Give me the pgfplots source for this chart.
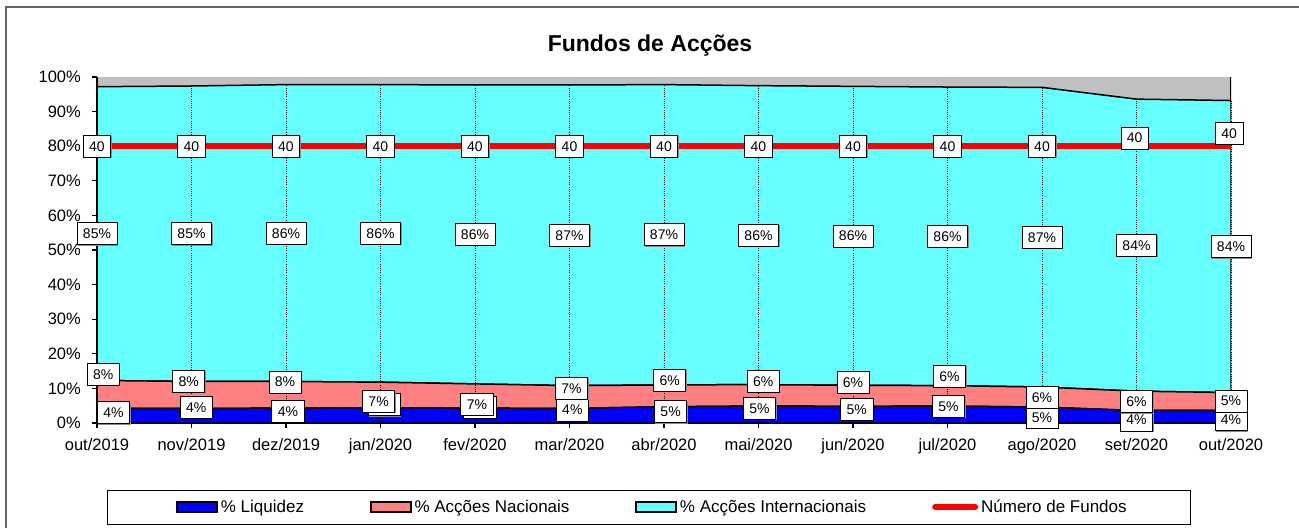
\documentclass[border=0pt]{standalone}
\usepackage{fontspec}
\setmainfont{Liberation Sans}
\usepackage{pgfplots}
\pgfplotsset{compat=1.18}
\usepackage{pgfplotstable}
\usetikzlibrary{shadows}

\definecolor{liqblue}{RGB}{0,0,255}
\definecolor{nacsalmon}{RGB}{255,128,128}
\definecolor{intcyan}{RGB}{102,255,255}
\definecolor{othgray}{RGB}{192,192,192}
\definecolor{fundred}{RGB}{255,0,0}

% x: category index; liq/nac/int: shares in %; fund: number of funds
% lqx,lqy / ncx,ncy / fx,fy: positions of the data labels
\pgfplotstableread{
x  liq nac int  lqx   lqy ncx   ncy  fx    fy   fund
0  4.2 8.1 84.9 0.175 3.0 0.065 14.1 0     40   40
1  4.2 7.8 85.4 1.05  4.5 0.97  12.0 1     40   40
2  4.3 7.7 85.8 2.02  3.4 1.99  11.9 2     40   40
3  4.4 7.4 86.0 3.04  5.3 2.98  6.3  3     40   40
4  4.3 7.0 86.4 4.05  4.5 4.02  5.4  4     40   40
5  4.2 6.6 86.9 5.03  3.8 5.02  10.0 5     40   40
6  4.7 6.3 86.8 6.07  3.3 6.06  12.3 6     40   40
7  4.9 6.2 86.4 7.01  4.2 7.05  12.0 7     40   40
8  4.8 6.1 86.4 8.04  4.0 8.0   11.8 8     40   40
9  4.9 5.9 86.3 9.01  4.8 9.02  13.5 9     40   40
10 4.6 5.8 86.6 10.0  1.7 10.0  7.4  10    40   40
11 3.6 5.6 84.4 11.0  0.9 11.0  6.2  10.98 41.2 40
12 3.7 5.1 84.4 12.0  1.0 12.0  6.4  11.98 41.9 40
}\data

\tikzset{
  lbl/.style={anchor=center, draw=black, line width=0.6pt, fill=white, text=black,
    font=\fontsize{14}{16}\selectfont, inner xsep=6pt, inner ysep=0pt,
    minimum height=22pt, text height=10pt, text depth=0pt,
    drop shadow={shadow xshift=1pt, shadow yshift=-1pt, fill=black!45, opacity=1}},
}
\pgfplotsset{
  myaxis/.style={width=1134pt, height=346pt, scale only axis,
    at={(97pt,105pt)}, anchor=south west, xmin=0, xmax=12},
  areaimg/.style={legend image code/.code={\draw[##1] (0pt,-5pt) rectangle (40pt,5pt);}},
  lineimg/.style={legend image code/.code={\draw[##1, line width=6pt, line cap=round] (3pt,0pt) -- (43pt,0pt);}},
}

\begin{document}
\begin{tikzpicture}
\useasboundingbox (0pt,0pt) rectangle (1299pt,528pt);
\fill[white] (0pt,0pt) rectangle (1299pt,528pt);
\draw[black!60, line width=1.2pt] (6pt,0pt) -- (6pt,521pt) -- (1299pt,521pt);

\node[anchor=base, font=\bfseries\fontsize{23}{27}\selectfont] at (650pt,476pt) {Fundos de Acções};

% main axis: stacked areas
\begin{axis}[myaxis, ymin=0, ymax=100, stack plots=y,
  axis background/.style={fill=othgray},
  axis x line*=bottom, axis y line*=left,
  axis line style={black, line width=1.5pt},
  xtick={0,...,12},
  xticklabels={out/2019,nov/2019,dez/2019,jan/2020,fev/2020,mar/2020,abr/2020,mai/2020,jun/2020,jul/2020,ago/2020,set/2020,out/2020},
  ytick={0,10,...,100},
  yticklabel={\pgfmathprintnumber{\tick}\%},
  /pgf/number format/assume math mode=true,
  tick align=outside, major tick length=5pt,
  tick style={black, line width=1.2pt},
  tick label style={font=\fontsize{16.5}{19}\selectfont},
  yticklabel style={anchor=east, inner sep=0pt, xshift=-11pt},
  xticklabel style={anchor=north, inner sep=0pt, yshift=-10pt},
]
\addplot[fill=liqblue, draw=black, line width=1.5pt, mark=none] table[x=x, y=liq] {\data} \closedcycle;
\addplot[fill=nacsalmon, draw=black, line width=1.5pt, mark=none] table[x=x, y=nac] {\data} \closedcycle;
\addplot[fill=intcyan, draw=black, line width=1.5pt, mark=none] table[x=x, y=int] {\data} \closedcycle;
\draw[black, line width=1.5pt] (rel axis cs:1,0) -- (rel axis cs:1,1);
\end{axis}

% overlay: drop lines and percentage labels
\begin{axis}[myaxis, ymin=0, ymax=100, hide axis, clip=false,
  /pgf/number format/assume math mode=true]
\addplot[ycomb, black, line width=0.8pt, dash pattern=on 1pt off 1.2pt, mark=none, forget plot]
  table[x=x, y expr=\thisrow{liq}+\thisrow{nac}+\thisrow{int}] {\data};
\addplot[draw=none, mark=none, forget plot, point meta=explicit,
  nodes near coords={\pgfmathprintnumber[fixed,precision=0]{\pgfplotspointmeta}\%},
  every node near coord/.append style={lbl}]
  table[x=lqx, y=lqy, meta=liq] {\data};
\addplot[draw=none, mark=none, forget plot, point meta=explicit,
  nodes near coords={\pgfmathprintnumber[fixed,precision=0]{\pgfplotspointmeta}\%},
  every node near coord/.append style={lbl}]
  table[x=ncx, y=ncy, meta=nac] {\data};
\addplot[draw=none, mark=none, forget plot, point meta=explicit,
  nodes near coords={\pgfmathprintnumber[fixed,precision=0]{\pgfplotspointmeta}\%},
  every node near coord/.append style={lbl}]
  table[x=x, y expr=\thisrow{liq}+\thisrow{nac}+\thisrow{int}/2, meta=int] {\data};
\end{axis}

% overlay: number of funds (secondary scale 0-50) and legend
\begin{axis}[myaxis, ymin=0, ymax=50, hide axis, clip=false,
  /pgf/number format/assume math mode=true,
  legend columns=4,
  legend style={at={(0.4890,-0.2428)}, anchor=center, draw=none, fill=none,
    font=\fontsize{17}{20}\selectfont, nodes={inner sep=0pt},
    /tikz/every odd column/.append style={column sep=3pt},
    /tikz/every even column/.append style={column sep=66pt}},
  legend cell align=left]
\addlegendimage{fill=liqblue, draw=black, line width=1.5pt, areaimg}
\addlegendentry{\% Liquidez}
\addlegendimage{fill=nacsalmon, draw=black, line width=1.5pt, areaimg}
\addlegendentry{\% Acções Nacionais}
\addlegendimage{fill=intcyan, draw=black, line width=1.5pt, areaimg}
\addlegendentry{\% Acções Internacionais}
\addplot[fundred, line width=6.5pt, mark=none, lineimg]
  table[x=x, y=fund] {\data};
\addlegendentry{Número de Fundos}
\addplot[draw=none, mark=none, forget plot, point meta=explicit,
  nodes near coords={\pgfmathprintnumber{\pgfplotspointmeta}},
  every node near coord/.append style={lbl}]
  table[x=fx, y=fy, meta=fund] {\data};
\end{axis}

\draw[black, line width=1pt] (107pt,4pt) rectangle (1190pt,38pt);
\end{tikzpicture}
\end{document}
